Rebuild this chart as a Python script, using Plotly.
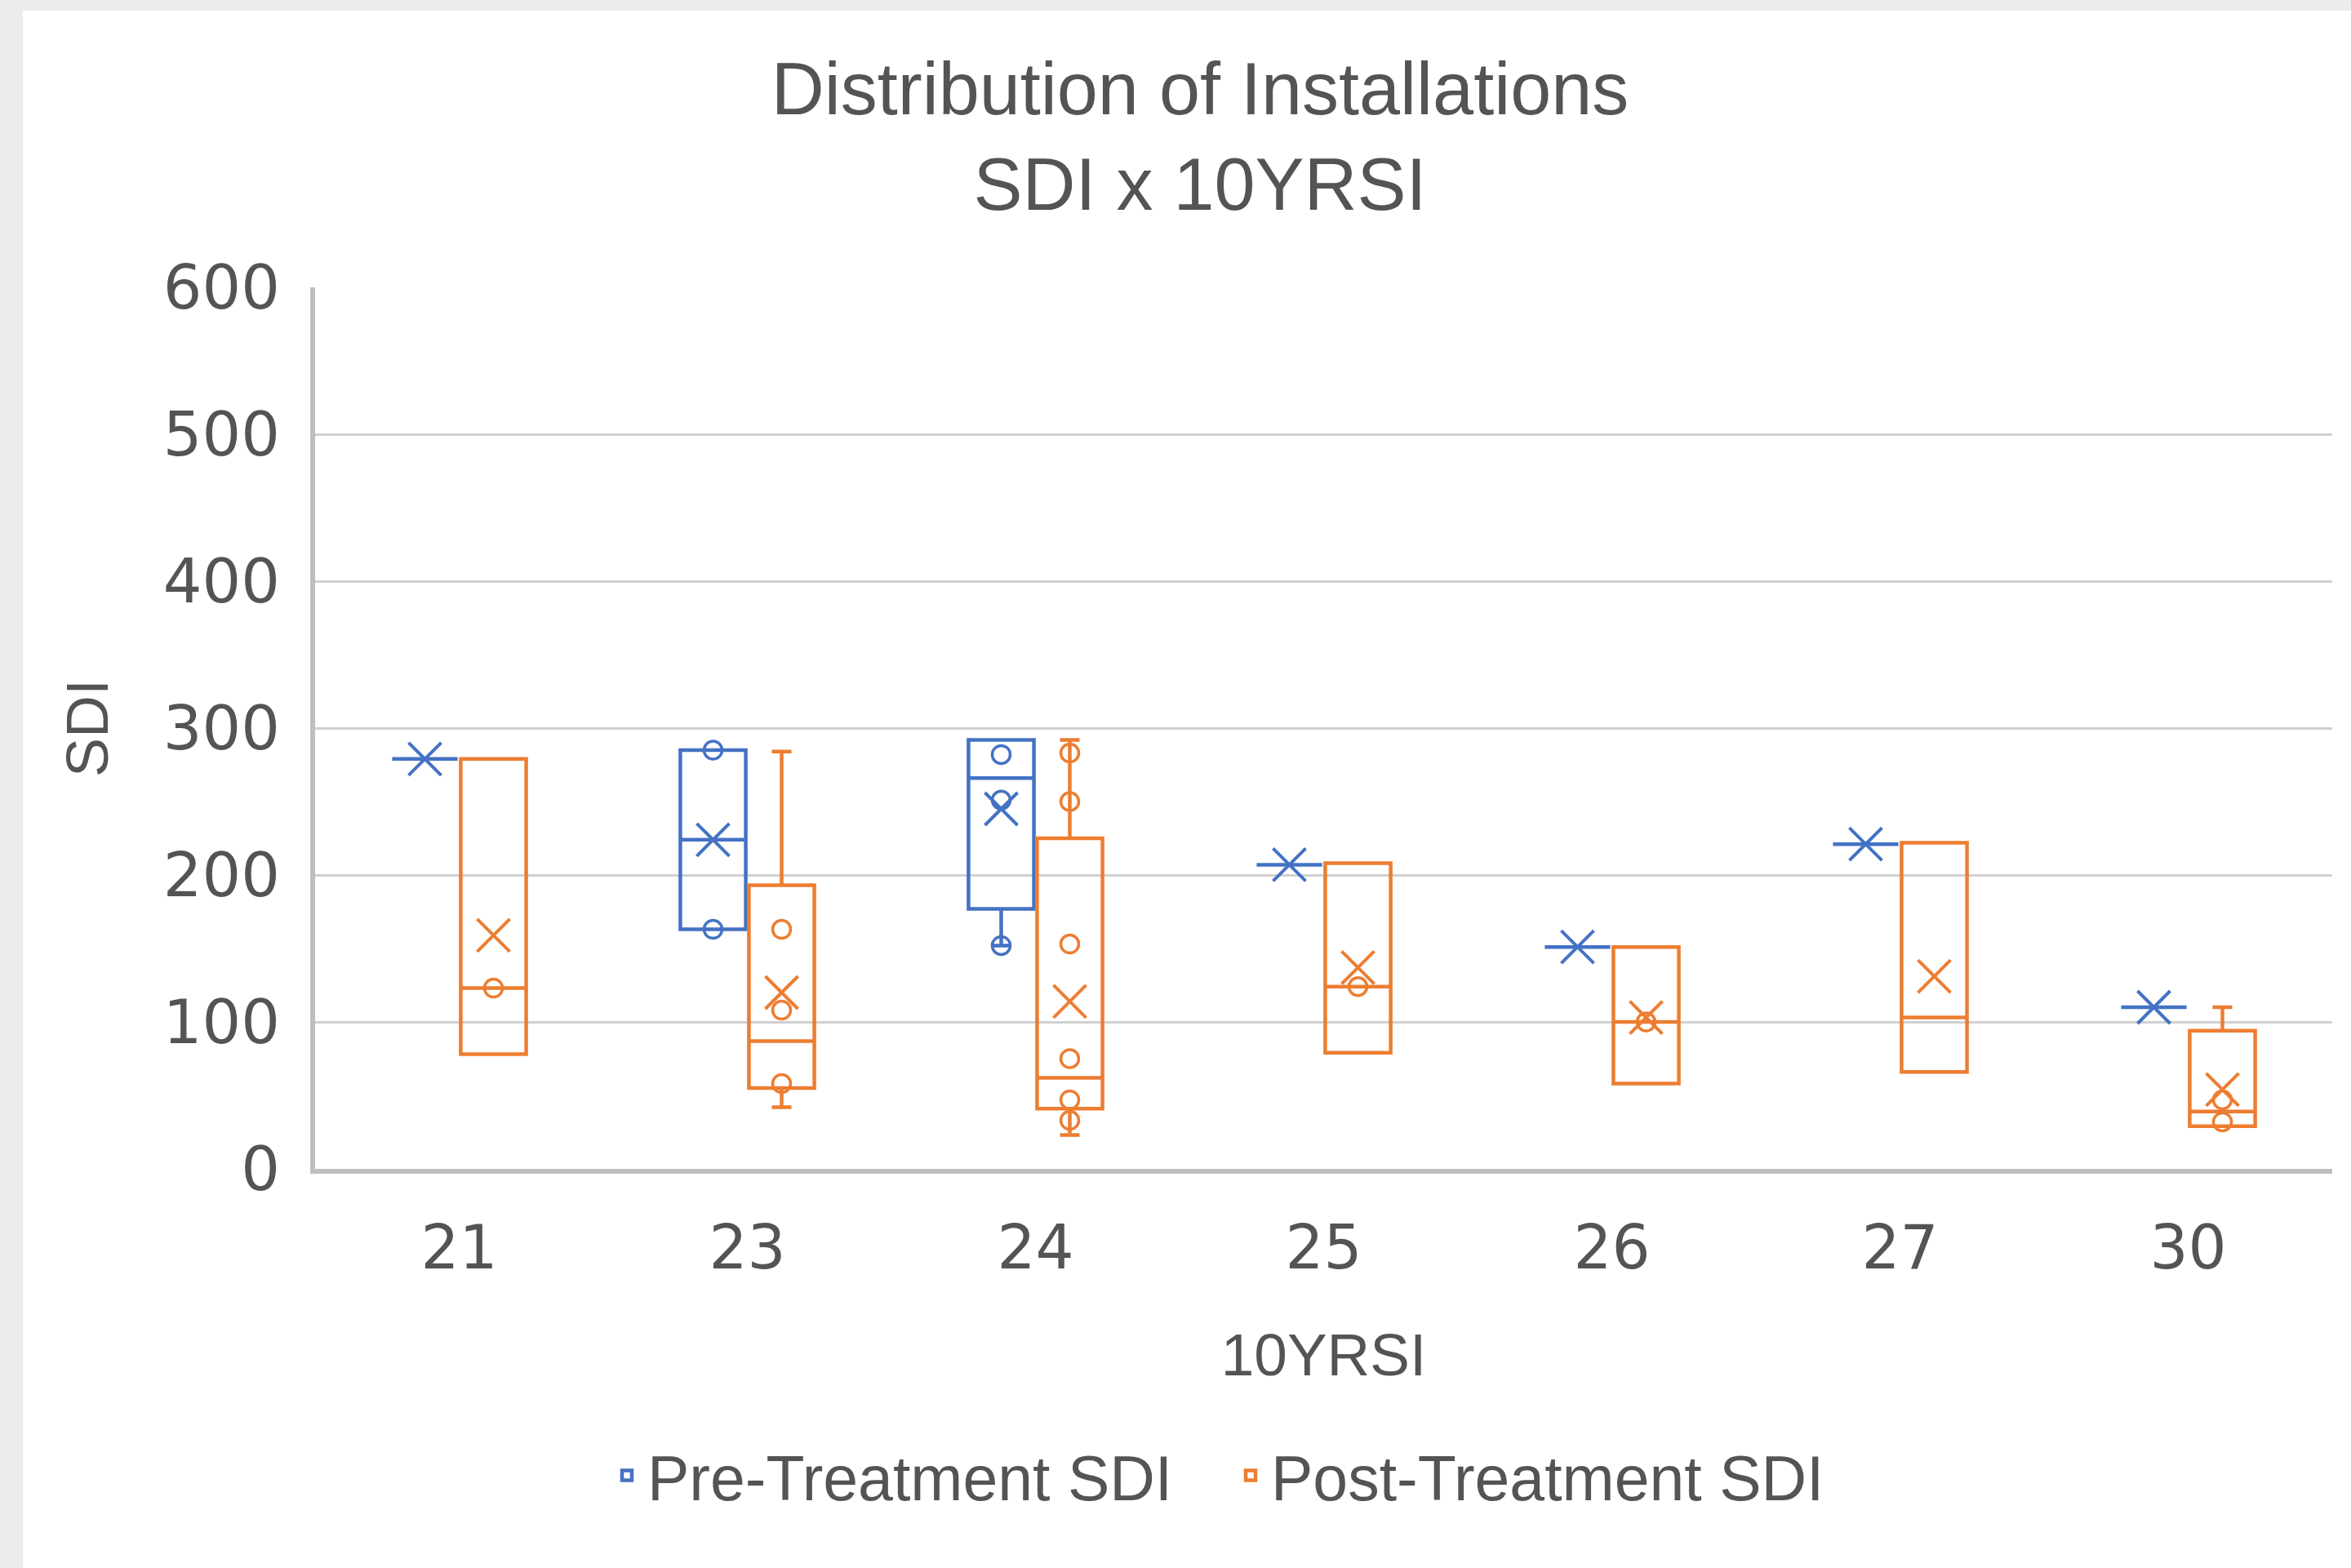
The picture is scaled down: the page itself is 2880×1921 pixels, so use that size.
import plotly.graph_objects as go

# ---------------- data ----------------
categories = ["21", "23", "24", "25", "26", "27", "30"]

pre_lower = [279, 163, 152, 207, 151, 221, 110]
pre_q1 = [279, 163, 177, 207, 151, 221, 110]
pre_median = [279, 224, 266, 207, 151, 221, 110]
pre_q3 = [279, 285, 292, 207, 151, 221, 110]
pre_upper = [279, 285, 292, 207, 151, 221, 110]
pre_mean = [279, 224, 245, 207, 151, 221, 110]
pre_points = [[], [163, 285], [152, 251, 282], [], [], [], []]

post_lower = [78, 42, 23, 79, 58, 66, 29]
post_q1 = [78, 55, 41, 79, 58, 66, 29]
post_median = [123, 87, 62, 124, 100, 103, 39]
post_q3 = [279, 193, 225, 208, 151, 222, 94]
post_upper = [279, 284, 292, 208, 151, 222, 110]
post_mean = [159, 120, 114, 137, 103, 131, 54]
post_points = [[123], [58, 108, 163], [33, 47, 75, 153, 250, 283], [124], [100], [], [32, 47]]

y_ticks = [0, 100, 200, 300, 400, 500, 600]

# ---------------- styling ----------------
W, H = 2880, 1921
ML, MR, MT, MB = 386, 23, 352, 489
PW, PH = W - ML - MR, H - MT - MB
TEXT = "#545454"
FONT = "Liberation Sans"
TRANSP = "rgba(0,0,0,0)"

series = [
    ("Pre-Treatment SDI", "pre", "#4472C4", pre_lower, pre_q1, pre_median, pre_q3, pre_upper, pre_mean, pre_points),
    ("Post-Treatment SDI", "post", "#ED7D31", post_lower, post_q1, post_median, post_q3, post_upper, post_mean, post_points),
]

fig = go.Figure()
for name, key, color, lo, q1, med, q3, up, mean, pts in series:
    fig.add_trace(go.Box(
        name=name, x=categories, q1=q1, median=med, q3=q3,
        lowerfence=lo, upperfence=up, offsetgroup=key,
        boxpoints=False, whiskerwidth=0.3,
        line=dict(color=color, width=4.5), fillcolor=TRANSP,
        showlegend=True, hoverinfo="skip",
    ))
    px = [c for c, p in zip(categories, pts) for _ in p]
    py = [v for p in pts for v in p]
    fig.add_trace(go.Box(
        name=name + " points", x=px, y=py, offsetgroup=key,
        boxpoints="all", jitter=0, pointpos=0,
        line=dict(color=color, width=0), fillcolor=TRANSP,
        marker=dict(symbol="circle-open", size=22, color=color, line=dict(width=3.5, color=color)),
        showlegend=False, hoverinfo="skip",
    ))
    fig.add_trace(go.Box(
        name=name + " mean", x=categories, y=mean, offsetgroup=key,
        boxpoints="all", jitter=0, pointpos=0,
        line=dict(color=color, width=0), fillcolor=TRANSP,
        marker=dict(symbol="x-thin-open", size=40, color=color, line=dict(width=4, color=color)),
        showlegend=False, hoverinfo="skip",
    ))

# light grey frame bands (left and top) like the screenshot
shapes = [
    dict(type="rect", xref="paper", yref="paper", layer="below", line=dict(width=0),
         fillcolor="#ececec", x0=-ML / PW, x1=(28 - ML) / PW, y0=-MB / PH, y1=(H - MB) / PH),
    dict(type="rect", xref="paper", yref="paper", layer="below", line=dict(width=0),
         fillcolor="#ececec", x0=-ML / PW, x1=(W - ML) / PW, y0=(H - MB - 13) / PH, y1=(H - MB) / PH),
]

fig.update_layout(
    width=W, height=H,
    margin=dict(l=ML, r=MR, t=MT, b=MB, autoexpand=False),
    paper_bgcolor="white", plot_bgcolor="white",
    boxmode="group", boxgap=0.524, boxgroupgap=0.046,
    font=dict(family=FONT, color=TEXT, size=72),
    title=dict(
        text="Distribution of Installations<br>SDI x 10YRSI",
        x=1470 / W, xref="container", xanchor="center",
        y=1 - 140 / H, yref="container", yanchor="middle",
        font=dict(family=FONT, size=90, color=TEXT),
    ),
    xaxis=dict(
        type="category", categoryorder="array", categoryarray=categories,
        range=[-0.5, len(categories) - 0.5],
        showgrid=False, showline=True, linecolor="#bfbfbf", linewidth=6,
        ticks="", ticklabelstandoff=27,
        tickfont=dict(family="DejaVu Sans", size=74, color=TEXT),
        title=dict(text="10YRSI", font=dict(family=FONT, size=73, color=TEXT), standoff=66),
        automargin=False,
    ),
    yaxis=dict(
        range=[0, 600], tickvals=y_ticks, showgrid=True, gridcolor="#d0d0d0", gridwidth=3,
        zeroline=False, showline=True, linecolor="#bfbfbf", linewidth=6,
        ticks="", ticklabelstandoff=22,
        tickfont=dict(family="DejaVu Sans", size=75, color=TEXT),
        title=dict(text="SDI", font=dict(family=FONT, size=72, color=TEXT), standoff=46),
        automargin=False,
    ),
    legend=dict(
        orientation="h", x=(743 - ML) / PW, xanchor="left",
        y=(H - MB - 1808) / PH, yanchor="middle",
        font=dict(family=FONT, size=77, color=TEXT), bgcolor=TRANSP,
        itemwidth=40, entrywidth=709,
    ),
    shapes=shapes,
)

fig.write_html("out.html")
